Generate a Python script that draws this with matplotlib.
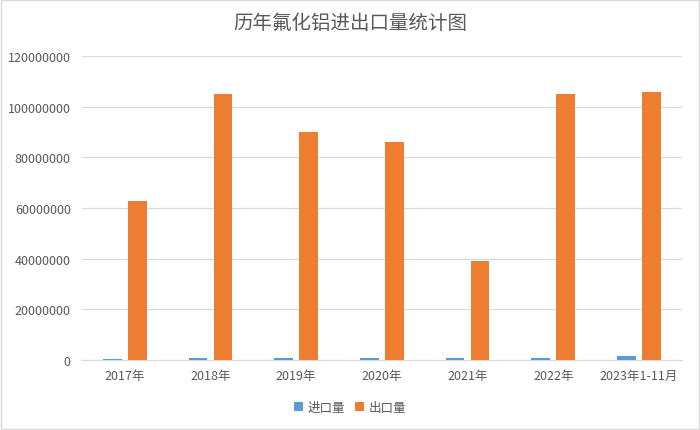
import numpy as np
import matplotlib.pyplot as plt
from matplotlib.patches import Rectangle

plt.rcParams['font.family'] = ['Noto Sans CJK SC', 'DejaVu Sans']

# Data
years = ['2017年', '2018年', '2019年', '2020年', '2021年', '2022年', '2023年1-11月']
imports = [500000, 1000000, 800000, 900000, 900000, 800000, 1500000]
exports = [62800000, 104800000, 89800000, 86200000, 39300000, 105000000, 105800000]

text_color = '#595959'

fig = plt.figure(figsize=(7, 4.31), dpi=100)
ax = fig.add_axes([0.117, 0.162, 0.857, 0.706])

x = np.arange(len(years))
w = 0.22
ax.bar(x - 0.146, imports, w, color='#5B9BD5', label='进口量', zorder=3)
ax.bar(x + 0.146, exports, w, color='#ED7D31', label='出口量', zorder=3)

ax.set_xlim(-0.5, len(years) - 0.5)
ax.set_ylim(0, 120000000)
ax.set_yticks(np.arange(0, 120000001, 20000000))
ax.set_yticklabels([str(v) for v in range(0, 120000001, 20000000)])
ax.set_xticks(x)
ax.set_xticklabels(years)

ax.grid(axis='y', color='#D9D9D9', linewidth=0.9, zorder=0)
for s in ['top', 'right', 'left']:
    ax.spines[s].set_visible(False)
ax.spines['bottom'].set_color('#D9D9D9')
ax.tick_params(axis='both', length=0, colors=text_color, labelsize=9)
ax.tick_params(axis='x', pad=6)
ax.tick_params(axis='y', pad=8)

fig.text(0.5, 0.945, '历年氟化铝进出口量统计图', ha='center', va='center',
         fontsize=14, color=text_color)

fig.legend(loc='center', bbox_to_anchor=(0.5, 0.053), ncol=2, frameon=False,
           fontsize=9, labelcolor=text_color, handlelength=0.7, handleheight=0.7,
           handletextpad=0.4, columnspacing=0.8)

fig.patches.append(Rectangle((0.002, 0.002), 0.996, 0.996, transform=fig.transFigure,
                             fill=False, edgecolor='#D9D9D9', linewidth=1))

fig.savefig('out.png', dpi=100)
